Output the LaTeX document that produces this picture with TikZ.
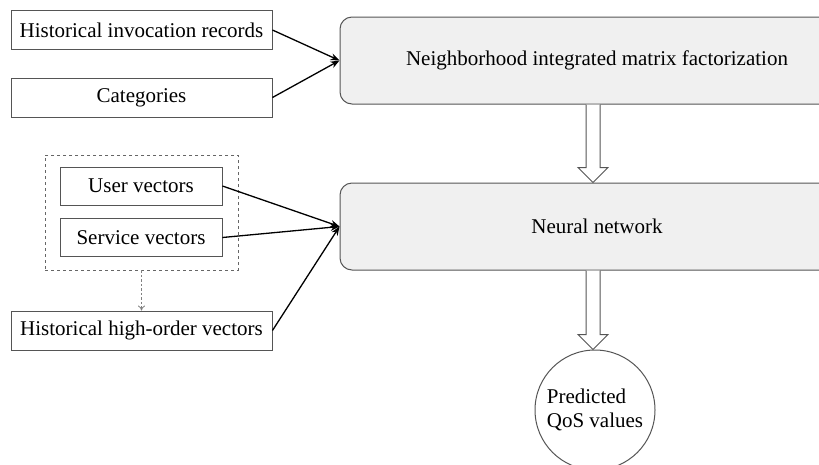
\documentclass[tikz,border=0pt]{standalone}
\usepackage{fontspec}
\setmainfont{Liberation Serif}
\usetikzlibrary{arrows.meta,calc}
\definecolor{boxfill}{HTML}{F0F0F0}
\definecolor{boxline}{HTML}{555555}
\begin{document}
\begin{tikzpicture}[x=1pt,y=-1pt,
  txt/.style={font=\fontsize{21}{24}\selectfont},
  inbox/.style={txt,draw=boxline,line width=0.9pt,minimum width=261pt,minimum height=39pt,inner sep=0pt},
  vecbox/.style={txt,draw=boxline,line width=0.9pt,minimum width=162pt,minimum height=38pt,inner sep=0pt},
  bigbox/.style={txt,draw=boxline,fill=boxfill,line width=1pt,rounded corners=12pt,minimum width=514pt,minimum height=87pt,inner sep=0pt},
  grpbox/.style={draw=black!60,dashed,line width=0.8pt,minimum width=193pt,minimum height=115pt,inner sep=0pt},
  conn/.style={line width=1.3pt,-{Stealth[length=9pt,width=7pt]}},
  dotconn/.style={draw=black!50,line width=0.8pt,dash pattern=on 2.5pt off 2pt,-{To[length=5pt,width=7pt]}},
  hollow/.style={draw=boxline,fill=white,line width=1pt,line join=miter}
]
\clip (0,0) rectangle (819,464);
\fill[white] (0,0) rectangle (819,464);

\node[inbox] (hir) at (141.5,30) {Historical invocation records};
\node[inbox] (cat) at (141.5,97.5) {Categories};
\node[grpbox] (grp) at (141.5,212.5) {};
\node[vecbox] (uv) at (141,186) {User vectors};
\node[vecbox] (sv) at (141,237.5) {Service vectors};
\node[inbox] (hho) at (141.5,330.5) {Historical high-order vectors};

\node[bigbox] (nimf) at (597,60.5) {Neighborhood integrated matrix factorization};
\node[bigbox] (nn) at (597,226.5) {Neural network};
\node[txt,draw=boxline,line width=1pt,circle,minimum size=120pt,inner sep=0pt,align=left] (qos) at (595,410) {Predicted\\QoS values};

\draw[conn] (hir.east) -- (nimf.west);
\draw[conn] (cat.east) -- (nimf.west);
\draw[conn] (uv.east) -- (nn.west);
\draw[conn] (sv.east) -- (nn.west);
\draw[conn] (hho.east) -- (nn.west);
\draw[dotconn] (grp.south) -- (hho.north);

\coordinate (a1s) at ($(nimf.south)+(-4,0)$);
\coordinate (a1e) at ($(nn.north)+(-4,0)$);
\draw[hollow] ($(a1s)+(-7,0)$) -- ($(a1e)+(-7,-15)$) -- ($(a1e)+(-15,-15)$) -- (a1e)
  -- ($(a1e)+(15,-15)$) -- ($(a1e)+(7,-15)$) -- ($(a1s)+(7,0)$);
\coordinate (a2s) at ($(nn.south)+(-4,0)$);
\coordinate (a2e) at ($(qos.north)+(-2,0)$);
\draw[hollow] ($(a2s)+(-7,0)$) -- ($(a2e)+(-7,-15)$) -- ($(a2e)+(-15,-15)$) -- (a2e)
  -- ($(a2e)+(15,-15)$) -- ($(a2e)+(7,-15)$) -- ($(a2s)+(7,0)$);
\end{tikzpicture}
\end{document}
